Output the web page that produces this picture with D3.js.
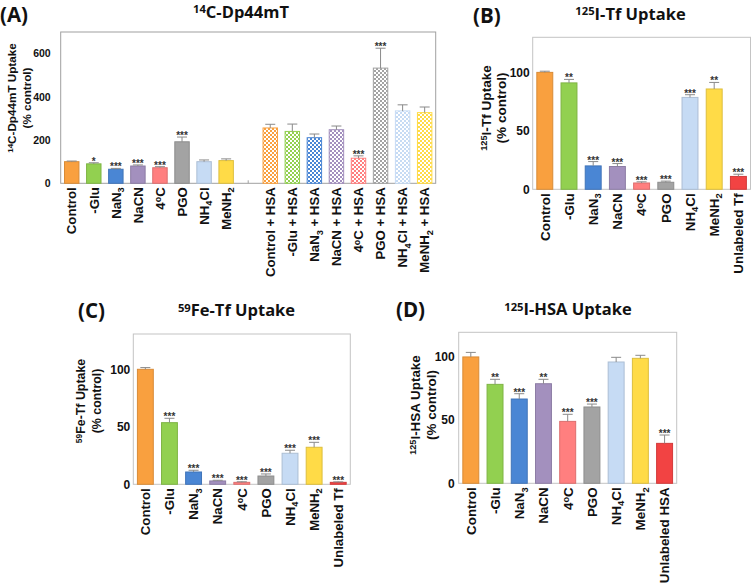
<!DOCTYPE html>
<html>
<head>
<meta charset="utf-8">
<script src="https://cdn.jsdelivr.net/npm/d3@7"></script>
<style>
  body { margin: 0; background: #fff; }
  svg { display: block; }
</style>
</head>
<body>
<div class="chart"></div>
<script>
// label markup: _{x} = subscript, ^{x} = superscript
const conditions = ["Control", "-Glu", "NaN_{3}", "NaCN", "4^{o}C", "PGO", "NH_{4}Cl", "MeNH_{2}"];
const hsaConditions = conditions.map(c => c + " + HSA");
const condColors = ["#f9a03f", "#92d050", "#4a86d4", "#a390be", "#ff7f7f", "#a3a3a3", "#c6dbf4", "#ffdb47"];
const unlabeledColor = "#f24343";

// (A) 14C-Dp44mT
const dpValues = [100, 90, 65, 80, 72, 192, 100, 105];
const dpErr = [3, 5, 4, 5, 5, 22, 8, 8];
const dpStars = ["", "*", "***", "***", "***", "***", "", ""];
const dpHsaValues = [256, 240, 211, 248, 116, 533, 335, 327];
const dpHsaErr = [17, 34, 17, 17, 11, 92, 28, 26];
const dpHsaStars = ["", "", "", "", "***", "***", "", ""];

// (B) 125I-Tf
const tfLabels = conditions.concat(["Unlabeled Tf"]);
const tfValues = [100, 91, 20, 19.5, 5.4, 6, 78.6, 85.8, 11];
const tfErr = [1, 3, 3.7, 2.5, 1, 1, 2.3, 5.6, 1.9];
const tfStars = ["", "**", "***", "***", "***", "***", "***", "**", "***"];

// (C) 59Fe-Tf
const feValues = [100, 53.6, 10.7, 2.9, 1.7, 7.2, 27, 32.2, 1.7];
const feErr = [1.5, 3.8, 1.5, 0.6, 0.5, 1.8, 2.6, 4.3, 0.4];
const feStars = ["", "***", "***", "***", "***", "***", "***", "***", "***"];

// (D) 125I-HSA
const hsaLabels = conditions.concat(["Unlabeled HSA"]);
const hsaValues = [100, 78.3, 66.7, 78.8, 49, 60.4, 96, 98.9, 31.6];
const hsaErr = [3.6, 4, 4.2, 3.5, 5.6, 2.3, 3.7, 2.4, 6.6];
const hsaStars = ["", "**", "***", "**", "***", "***", "", "", "***"];

const AXIS_FONT = "'Liberation Sans', Arial, sans-serif";
const TITLE_FONT = "'Open Sans', sans-serif";

const svg = d3.select(".chart").append("svg")
  .attr("width", 754)
  .attr("height", 583);

// checker patterns for the "+ HSA" bars
const defs = svg.append("defs");
condColors.forEach((c, i) => {
  const pat = defs.append("pattern")
    .attr("id", "chk" + i)
    .attr("patternUnits", "userSpaceOnUse")
    .attr("width", 4).attr("height", 4);
  pat.append("rect").attr("width", 4).attr("height", 4).attr("fill", "#fff");
  pat.append("rect").attr("width", 2).attr("height", 2).attr("fill", c);
  pat.append("rect").attr("x", 2).attr("y", 2).attr("width", 2).attr("height", 2).attr("fill", c);
});

function rich(text, str, size, base) {
  let shift = -(base || 0);
  str.split(/([_^]\{[^}]*\})/).filter(s => s).forEach(p => {
    let target = 0, fs = null, s = p;
    if (p[0] === "_") { target = size * 0.26; fs = size * 0.7; s = p.slice(2, -1); }
    else if (p[0] === "^") { target = -size * 0.27; fs = size * 0.68; s = p.slice(2, -1); }
    const t = text.append("tspan").text(s);
    if (target - shift !== 0) t.attr("dy", target - shift);
    if (fs) t.attr("font-size", fs);
    shift = target;
  });
}

function drawPanel(p) {
  const g = svg.append("g");
  const n = p.labels.length;
  const x = d3.scaleBand().domain(d3.range(n)).range([p.left, p.right])
    .paddingInner(0.3).paddingOuter(0.15);
  const y = d3.scaleLinear().domain([0, p.max]).range([p.bottom, p.top]);

  const bars = p.labels.map((l, i) => ({
    i: i, label: l, value: p.values[i], err: p.errs[i], star: p.stars[i],
    color: p.colors[i], hatch: p.hatch[i], pat: p.patIdx[i]
  }));

  // frame
  g.append("rect")
    .attr("x", p.left).attr("y", p.top)
    .attr("width", p.right - p.left).attr("height", p.bottom - p.top)
    .attr("fill", "none").attr("stroke", p.frame).attr("stroke-width", 1);

  // small category ticks along the base
  g.append("g").selectAll("line")
    .data(bars)
    .join("line")
    .attr("x1", d => x(d.i) + x.bandwidth() / 2).attr("x2", d => x(d.i) + x.bandwidth() / 2)
    .attr("y1", p.bottom).attr("y2", p.bottom - 3)
    .attr("stroke", p.frame);

  // y axis
  const ya = g.append("g")
    .attr("transform", `translate(${p.left},0)`)
    .call(d3.axisLeft(y).tickValues(p.ticks).tickSize(0).tickPadding(p.tickPad));
  ya.select(".domain").remove();
  ya.selectAll("text")
    .attr("font-family", AXIS_FONT).attr("font-weight", "bold")
    .attr("font-size", p.tickFont).attr("fill", "#111");

  const real = bars.filter(d => d.value != null);

  // bars
  g.append("g").selectAll("rect")
    .data(real)
    .join("rect")
    .attr("x", d => x(d.i) + 0.5)
    .attr("y", d => y(d.value))
    .attr("width", x.bandwidth() - 1)
    .attr("height", d => p.bottom - y(d.value))
    .attr("fill", d => d.hatch ? `url(#chk${d.pat})` : d.color)
    .attr("stroke", d => d.hatch ? d.color : d3.color(d.color).darker(0.4))
    .attr("stroke-width", 1);

  // error bars (upper only)
  const eb = g.append("g").selectAll("g")
    .data(real)
    .join("g")
    .attr("stroke", "#8a8a8a").attr("stroke-width", 1);
  eb.append("line")
    .attr("x1", d => x(d.i) + x.bandwidth() / 2).attr("x2", d => x(d.i) + x.bandwidth() / 2)
    .attr("y1", d => y(d.value)).attr("y2", d => y(d.value + d.err));
  eb.append("line")
    .attr("x1", d => x(d.i) + x.bandwidth() / 2 - 5).attr("x2", d => x(d.i) + x.bandwidth() / 2 + 5)
    .attr("y1", d => y(d.value + d.err)).attr("y2", d => y(d.value + d.err));

  // significance stars
  g.append("g").selectAll("text")
    .data(real.filter(d => d.star))
    .join("text")
    .attr("x", d => x(d.i) + x.bandwidth() / 2)
    .attr("y", d => y(d.value + d.err) + 2)
    .attr("text-anchor", "middle")
    .attr("font-family", AXIS_FONT).attr("font-weight", "bold")
    .attr("font-size", 10).attr("fill", "#333")
    .text(d => d.star);

  // category labels, rotated
  g.append("g").selectAll("text")
    .data(bars.filter(d => d.label))
    .join("text")
    .attr("transform", d => `translate(${x(d.i) + x.bandwidth() / 2},${p.bottom + 4}) rotate(-90)`)
    .attr("text-anchor", "end")
    .attr("font-family", AXIS_FONT).attr("font-weight", "bold")
    .attr("font-size", p.catFont).attr("fill", "#111")
    .each(function(d) { rich(d3.select(this), d.label, p.catFont, p.catFont * 0.36); });

  // y title, two lines
  p.yTitle.forEach((line, k) => {
    const t = g.append("text")
      .attr("transform", `translate(${p.yTitleX[k]},${p.yTitleY}) rotate(-90)`)
      .attr("text-anchor", "middle")
      .attr("font-family", AXIS_FONT).attr("font-weight", "bold")
      .attr("font-size", p.yFont).attr("fill", "#111");
    rich(t, line, p.yFont, p.yFont * 0.36);
  });

  // panel title
  const tt = g.append("text")
    .attr("x", p.titleX).attr("y", p.titleY)
    .attr("text-anchor", "middle")
    .attr("font-family", TITLE_FONT).attr("font-weight", "bold")
    .attr("font-size", 16.5).attr("fill", "#111");
  rich(tt, p.title, 16.5, 0);

  g.append("text")
    .attr("x", p.tagX).attr("y", p.tagY)
    .attr("font-family", TITLE_FONT).attr("font-weight", "bold")
    .attr("font-size", 20.5).attr("fill", "#111")
    .text(p.tag);
}

const nine = d3.range(9);

drawPanel({
  tag: "(A)", tagX: 0, tagY: 21.5,
  title: "^{14}C-Dp44mT", titleX: 241, titleY: 17.5,
  yTitle: ["^{14}C-Dp44mT Uptake", "(% control)"], yTitleX: [12, 27], yTitleY: 98, yFont: 11.7,
  left: 60.7, right: 435.7, top: 32, bottom: 183.3, max: 700, ticks: [0, 200, 400, 600],
  tickPad: 10, tickFont: 10.5, catFont: 13.2, frame: "#a0a0a0",
  labels: conditions.concat([""], hsaConditions),
  values: dpValues.concat([null], dpHsaValues),
  errs: dpErr.concat([0], dpHsaErr),
  stars: dpStars.concat([""], dpHsaStars),
  colors: condColors.concat(["#fff"], condColors),
  hatch: conditions.map(() => false).concat([false], conditions.map(() => true)),
  patIdx: d3.range(8).concat([0], d3.range(8))
});

drawPanel({
  tag: "(B)", tagX: 473, tagY: 22.5,
  title: "^{125}I-Tf Uptake", titleX: 630.5, titleY: 19.5,
  yTitle: ["^{125}I-Tf Uptake", "(% control)"], yTitleX: [486, 501], yTitleY: 108, yFont: 13.6,
  left: 532.7, right: 750.5, top: 37.3, bottom: 189.3, max: 130, ticks: [0, 50, 100],
  tickPad: 3, tickFont: 12, catFont: 13.4, frame: "#c4c4c4",
  labels: tfLabels, values: tfValues, errs: tfErr, stars: tfStars,
  colors: condColors.concat([unlabeledColor]),
  hatch: nine.map(() => false), patIdx: nine
});

drawPanel({
  tag: "(C)", tagX: 78, tagY: 318,
  title: "^{59}Fe-Tf Uptake", titleX: 236.5, titleY: 316,
  yTitle: ["^{59}Fe-Tf Uptake", "(% control)"], yTitleX: [81, 97], yTitleY: 401, yFont: 12.4,
  left: 133.3, right: 350.3, top: 334, bottom: 484.3, max: 130.7, ticks: [0, 50, 100],
  tickPad: 3, tickFont: 12, catFont: 13.2, frame: "#c4c4c4",
  labels: tfLabels, values: feValues, errs: feErr, stars: feStars,
  colors: condColors.concat([unlabeledColor]),
  hatch: nine.map(() => false), patIdx: nine
});

drawPanel({
  tag: "(D)", tagX: 396, tagY: 317,
  title: "^{125}I-HSA Uptake", titleX: 568, titleY: 315,
  yTitle: ["^{125}I-HSA Uptake", "(% control)"], yTitleX: [415, 431], yTitleY: 405, yFont: 13.4,
  left: 458.7, right: 676.7, top: 332.3, bottom: 483.3, max: 119.5, ticks: [0, 50, 100],
  tickPad: 4, tickFont: 12, catFont: 13.4, frame: "#c4c4c4",
  labels: hsaLabels, values: hsaValues, errs: hsaErr, stars: hsaStars,
  colors: condColors.concat([unlabeledColor]),
  hatch: nine.map(() => false), patIdx: nine
});
</script>
</body>
</html>
